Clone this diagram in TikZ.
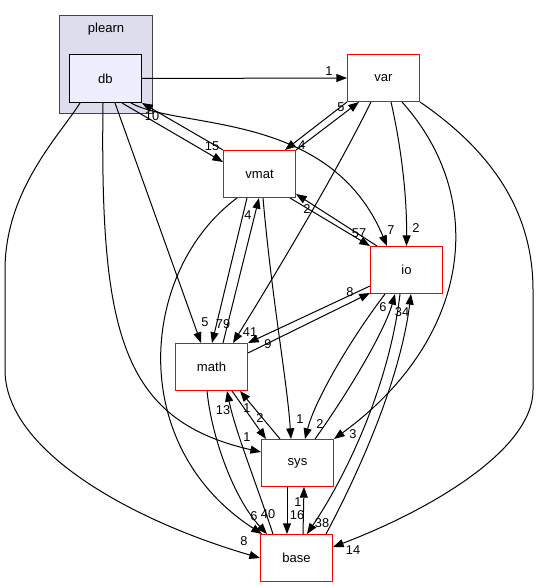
\documentclass[tikz,border=0pt]{standalone}
\usepackage{fontspec}
\setmainfont{Liberation Sans}
\usetikzlibrary{arrows.meta,calc}

\definecolor{clusterfill}{RGB}{221,221,238}
\definecolor{clusterline}{RGB}{68,68,68}
\definecolor{dbfill}{RGB}{238,238,255}

\tikzset{every picture/.style={line width=0.75pt}}
\tikzset{
  dirbox/.style={draw=red, fill=white, line width=0.75pt, minimum width=54pt, minimum height=35.25pt, inner sep=0pt, font=\fontsize{9.8}{11}\selectfont},
  dep/.style={-{Triangle[length=8pt,width=6pt]}},
  cnt/.style={inner sep=0pt, font=\fontsize{9.6}{11}\selectfont},
}

\begin{document}
\begin{tikzpicture}[x=0.75pt,y=0.75pt,yscale=-1,xscale=1]
\useasboundingbox (0,0) rectangle (541,588);

% Cluster
\node[draw=clusterline, fill=clusterfill, line width=1.1pt, minimum width=69.75pt, minimum height=73.5pt, inner sep=0pt] (plearn) at (106,64.5) {};
\node[cnt, font=\fontsize{9.8}{11}\selectfont] (plearnname) at (106,29) {plearn};
% Text Node
\node[draw=black, fill=dbfill, line width=0.75pt, minimum width=54pt, minimum height=36pt, inner sep=0pt, font=\fontsize{9.8}{11}\selectfont] (db) at (105.5,78.5) {db};
% Text Node
\node[dirbox] (var) at (383.5,78) {var};
% Text Node
\node[dirbox] (vmat) at (259.5,174) {vmat};
% Text Node
\node[dirbox] (io) at (406.5,270) {io};
% Text Node
\node[dirbox] (math) at (211.5,367) {math};
% Text Node
\node[dirbox] (sys) at (297.5,463) {sys};
% Text Node
\node[dirbox] (base) at (296.5,558) {base};

% Connection
\draw[dep] (db.east) -- (var.west);
\node[cnt] (c-db-var) at (329,71) {1};
% Connection
\draw[dep] ($(db.south west)+(53,0)$) -- ($(vmat.north west)+(0,12)$);
\node[cnt] (c-db-vmat) at (212,146) {15};
% Connection
\draw[dep] (vmat.north west) -- (db.south east);
\node[cnt] (c-vmat-db) at (152,116) {10};
% Connection
\draw[dep] ($(db.south west)+(62,0)$) .. controls (180,130) and (330,110) .. ($(io.north west)+(17,0)$);
\node[cnt] (c-db-io) at (391,230) {7};
% Connection
\draw[dep] ($(db.south west)+(46,0)$) -- ($(math.north west)+(26,0)$);
\node[cnt] (c-db-math) at (205,322) {5};
% Connection
\draw[dep] ($(db.south west)+(34,0)$) .. controls (100,330) and (120,420) .. ($(sys.north west)+(0,13)$);
\node[cnt] (c-db-sys) at (247,437) {1};
% Connection
\draw[dep] ($(db.south west)+(11,0)$) .. controls (60,135) and (5,190) .. (5,270) -- (5,370) .. controls (5,450) and (130,520) .. (base.west);
\node[cnt] (c-db-base) at (244,541) {8};

% Connection
\draw[dep] (var.south west) -- ($(vmat.north west)+(62,0)$);
\node[cnt] (c-var-vmat) at (302,145) {4};
% Connection
\draw[dep] (vmat.north east) -- ($(var.south west)+(12,0)$);
\node[cnt] (c-vmat-var) at (341,107) {5};
% Connection
\draw[dep] ($(var.south west)+(24,0)$) .. controls (335,175) and (275,275) .. ($(math.north west)+(58,0)$);
\node[cnt] (c-var-math) at (250,332) {41};
% Connection
\draw[dep] ($(var.south west)+(44,0)$) .. controls (402,150) and (407,200) .. (io.north);
\node[cnt] (c-var-io) at (416,228) {2};
% Connection
\draw[dep] ($(var.south west)+(55,0)$) .. controls (490,200) and (470,340) .. (sys.north east);
\node[cnt] (c-var-sys) at (353,434) {3};
% Connection
\draw[dep] (var.south east) .. controls (490,150) and (533,210) .. (533,290) -- (533,390) .. controls (533,450) and (430,510) .. ($(base.north east)+(0,13)$);
\node[cnt] (c-var-base) at (353,550) {14};

% Connection
\draw[dep] ($(vmat.south west)+(67,0)$) -- (io.north west);
\node[cnt] (c-vmat-io) at (359,233) {57};
% Connection
\draw[dep] ($(io.north west)+(7,0)$) -- ($(vmat.south east)+(0,-4)$);
\node[cnt] (c-io-vmat) at (307,209) {2};
% Connection
\draw[dep] ($(vmat.south west)+(24,0)$) -- ($(math.north west)+(37,0)$);
\node[cnt] (c-vmat-math) at (223,324) {79};
% Connection
\draw[dep] ($(math.north west)+(48,0)$) -- ($(vmat.south west)+(36,0)$);
\node[cnt] (c-math-vmat) at (248,215) {4};
% Connection
\draw[dep] ($(vmat.south west)+(40,0)$) .. controls (272,300) and (287,380) .. ($(sys.north west)+(30,0)$);
\node[cnt] (c-vmat-sys) at (300,419) {1};
% Connection
\draw[dep] ($(vmat.south west)+(14,0)$) .. controls (140,270) and (125,445) .. ($(base.north west)+(2,0)$);
\node[cnt] (c-vmat-base) at (254,516) {6};

% Connection
\draw[dep] ($(math.north east)+(0,10)$) -- ($(io.south west)+(0,-1)$);
\node[cnt] (c-math-io) at (350,292) {8};
% Connection
\draw[dep] ($(io.south west)+(0,-8)$) -- (math.north east);
\node[cnt] (c-io-math) at (268,344) {9};
% Connection
\draw[dep] ($(math.south west)+(57,0)$) -- ($(sys.north west)+(5,0)$);
\node[cnt] (c-math-sys) at (260,418) {2};
% Connection
\draw[dep] ($(sys.north west)+(19,0)$) -- ($(math.south west)+(65,0)$);
\node[cnt] (c-sys-math) at (247,408) {1};
% Connection
\draw[dep] ($(math.south west)+(32,0)$) .. controls (212,440) and (235,500) .. ($(base.north west)+(7,0)$);
\node[cnt] (c-math-base) at (268,514) {40};
% Connection
\draw[dep] ($(base.north west)+(13,0)$) .. controls (255,480) and (235,430) .. ($(math.south west)+(52,0)$);
\node[cnt] (c-base-math) at (223,410) {13};

% Connection
\draw[dep] ($(io.south west)+(15,0)$) .. controls (350,340) and (315,400) .. ($(sys.north west)+(44,0)$);
\node[cnt] (c-io-sys) at (320,424) {2};
% Connection
\draw[dep] ($(sys.north west)+(54,0)$) .. controls (350,390) and (385,330) .. ($(io.south west)+(25,0)$);
\node[cnt] (c-sys-io) at (383,307) {6};
% Connection
\draw[dep] ($(io.south west)+(30,0)$) .. controls (390,380) and (350,470) .. ($(base.north west)+(47,0)$);
\node[cnt] (c-io-base) at (322,523) {38};
% Connection
\draw[dep] ($(base.north west)+(66,0)$) .. controls (360,470) and (400,380) .. ($(io.south west)+(41,0)$);
\node[cnt] (c-base-io) at (402,312) {34};

% Connection
\draw[dep] ($(sys.south west)+(26,0)$) -- ($(base.north west)+(27,0)$);
\node[cnt] (c-sys-base) at (297,515) {16};
% Connection
\draw[dep] ($(base.north west)+(43,0)$) -- ($(sys.south west)+(43,0)$);
\node[cnt] (c-base-sys) at (298,502) {1};

\end{tikzpicture}
\end{document}
